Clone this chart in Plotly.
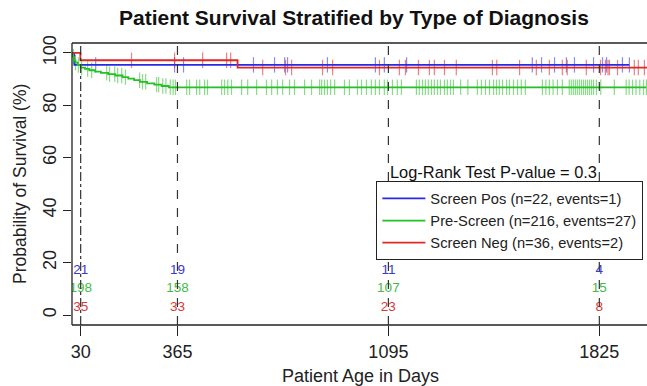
import plotly.graph_objects as go

# ---------------- data ----------------
title = "Patient Survival Stratified by Type of Diagnosis"
group_names = ["Screen Pos (n=22, events=1)",
               "Pre-Screen (n=216, events=27)",
               "Screen Neg (n=36, events=2)"]

# Kaplan-Meier step curves (day, survival %)
pos_days = [0, 8, 1929]
pos_surv = [100, 95.45, 95.45]

pre_days = [0, 3, 7, 12, 20, 30, 45, 60, 80, 100, 125, 150, 175, 195, 215, 235, 260, 285, 310, 335, 1988]
pre_surv = [100, 98.6, 97.2, 96.3, 95.4, 94.4, 93.9, 93.4, 92.9, 92.4, 91.9, 91.4, 90.8, 90.2,
            89.6, 89.0, 88.4, 87.9, 87.4, 86.9, 86.9]

neg_days = [0, 29, 573, 1990]
neg_surv = [100, 97.22, 94.44, 94.44]

# censoring times (days)
pos_censor = [82, 355, 386, 628, 701, 736, 746, 884, 1050, 1081, 1158, 1593, 1625, 1670,
              1711, 1739, 1805, 1836, 1850, 1905, 1929]
neg_censor = [206, 355, 452, 535, 549, 660, 739, 760, 867, 902, 1064, 1133, 1154, 1199, 1237,
              1254, 1289, 1330, 1455, 1470, 1549, 1607, 1652, 1697, 1714, 1780, 1829, 1846,
              1855, 1860, 1888, 1946, 1960, 1981]
pre_censor = [5, 12, 22, 33, 54, 68, 120, 130, 148, 158, 172, 185, 234, 244, 255, 293, 300, 314,
              325, 340, 350, 358, 397, 407, 431, 442, 459, 469, 518, 528, 539, 552, 587, 608,
              639, 673, 691, 711, 729, 753, 770, 805, 829, 857, 864, 874, 884, 895, 909, 943,
              960, 988, 1002, 1019, 1036, 1050, 1064, 1081, 1092, 1109, 1126, 1140, 1192, 1202,
              1213, 1223, 1233, 1244, 1254, 1265, 1275, 1289, 1299, 1310, 1320, 1345, 1370,
              1403, 1417, 1431, 1445, 1459, 1469, 1479, 1490, 1504, 1514, 1528, 1542, 1555,
              1569, 1628, 1640, 1652, 1665, 1680, 1697, 1721, 1728, 1735, 1742, 1749, 1756,
              1763, 1770, 1777, 1784, 1791, 1798, 1805, 1815, 1830, 1877, 1918, 1928, 1940,
              1952, 1965, 1978, 1988]

# number at risk table
risk_days = [30, 365, 1095, 1825]
pos_risk = [21, 19, 11, 4]
pre_risk = [198, 158, 107, 15]
neg_risk = [35, 33, 23, 8]

pvalue_text = "Log-Rank Test P-value = 0.3"

# ---------------- styling ----------------
FONT = "Liberation Sans, Arial, sans-serif"
col_line = ["#2a2ae6", "#25c025", "#e02828"]
col_cens = ["rgba(60,60,230,0.6)", "rgba(40,190,40,0.55)", "rgba(225,45,45,0.6)"]
col_risk = ["#3a3ad0", "#45bb45", "#d83a3a"]
risk_y = [17, 10, 3]


def surv_at(days, surv, t):
    s = surv[0]
    for d, v in zip(days, surv):
        if d <= t:
            s = v
    return s


fig = go.Figure()

curves = [(pos_days, pos_surv, pos_censor, pos_risk),
          (pre_days, pre_surv, pre_censor, pre_risk),
          (neg_days, neg_surv, neg_censor, neg_risk)]

# censor marks first
for i, (d, s, c, r) in enumerate(curves):
    fig.add_trace(go.Scatter(
        x=c, y=[surv_at(d, s, t) for t in c], mode="markers",
        marker=dict(symbol="line-ns-open", size=11, color=col_cens[i],
                    line=dict(width=1.2, color=col_cens[i])),
        showlegend=False, hoverinfo="skip"))

for i, (d, s, c, r) in enumerate(curves):
    fig.add_trace(go.Scatter(
        x=d, y=s, mode="lines", line=dict(shape="hv", color=col_line[i], width=1.8),
        name=group_names[i], showlegend=True))

# risk numbers
for i, (d, s, c, r) in enumerate(curves):
    fig.add_trace(go.Scatter(
        x=risk_days, y=[risk_y[i]] * len(risk_days), mode="text",
        text=[str(v) for v in r], textfont=dict(family=FONT, size=13.5, color=col_risk[i]),
        showlegend=False, hoverinfo="skip"))

# reference vertical lines
for k, xd in enumerate(risk_days):
    fig.add_shape(type="line", xref="x", yref="paper", x0=xd, x1=xd, y0=0, y1=1,
                  line=dict(color="#333333", width=1.2,
                            dash="dashdot" if k == 0 else "dash"))

# box (left, top, bottom)
for (x0, y0, x1, y1) in [(0, 0, 0, 1), (0, 1, 1, 1), (0, 0, 1, 0)]:
    fig.add_shape(type="line", xref="paper", yref="paper", x0=x0, y0=y0, x1=x1, y1=y1,
                  line=dict(color="#222222", width=1.3))

fig.add_annotation(x=risk_days[2], y=54.6, xref="x", yref="y", text=pvalue_text,
                   showarrow=False, xanchor="left", yanchor="middle",
                   font=dict(family=FONT, size=16.4, color="#111111"))

# axis titles
fig.add_annotation(x=-0.0904, y=0.5, xref="paper", yref="paper",
                   text="Probability of Survival (%)", textangle=-90, showarrow=False,
                   xanchor="center", yanchor="middle",
                   font=dict(family=FONT, size=17.5, color="#222222"))
fig.add_annotation(x=0.5026, y=-0.181, xref="paper", yref="paper",
                   text="Patient Age in Days", showarrow=False,
                   xanchor="center", yanchor="middle",
                   font=dict(family=FONT, size=18, color="#222222"))

fig.update_layout(
    width=647, height=386,
    margin=dict(l=72, r=0, t=43, b=61, autoexpand=False),
    paper_bgcolor="white", plot_bgcolor="white",
    title=dict(text="<b>" + title + "</b>", x=0.547, xanchor="center",
               y=0.953, yanchor="middle", font=dict(family=FONT, size=21, color="#111111")),
    xaxis=dict(range=[0, 1990], tickmode="array", tickvals=risk_days,
               ticktext=[str(v) for v in risk_days], showgrid=False, zeroline=False,
               showline=False, ticks="outside", ticklen=10, tickwidth=1.2, tickcolor="#222",
               ticklabelstandoff=0, automargin=False,
               tickfont=dict(family=FONT, size=18, color="#222222")),
    yaxis=dict(range=[-3.8, 103.8], tickmode="array", tickvals=[0, 20, 40, 60, 80, 100],
               showgrid=False, zeroline=False, showline=False, ticks="outside", ticklen=8,
               tickwidth=1.2, tickcolor="#222", tickangle=-90, ticklabelstandoff=0,
               automargin=False,
               tickfont=dict(family=FONT, size=18, color="#222222")),
    legend=dict(x=0.529, y=0.51, xanchor="left", yanchor="top",
                bgcolor="white", bordercolor="#222222", borderwidth=1.2,
                font=dict(family=FONT, size=14.7, color="#222222"),
                tracegroupgap=0, itemwidth=43),
    showlegend=True,
)

fig.write_html("out.html", config={"displayModeBar": False},
               post_script="document.body.style.margin='0';document.body.style.overflow='hidden';")
